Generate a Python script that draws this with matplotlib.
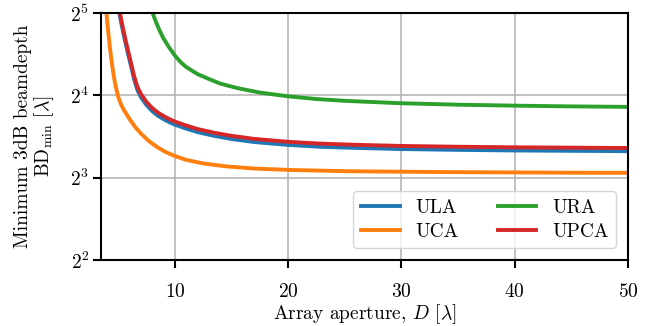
import matplotlib
matplotlib.use("Agg")
import matplotlib.pyplot as plt
from matplotlib.ticker import FixedLocator, FixedFormatter, NullLocator

# values (aperture D in wavelengths, BD_min in wavelengths)
ula_D = [5.05, 5.15, 5.35, 5.6, 5.85, 6.1, 6.4, 6.7, 7.0, 7.5, 8.0, 8.5, 9.0, 9.5, 10, 11, 12, 13.5, 15, 17, 20, 23, 26, 30, 35, 40, 45, 50]
ula_bd = [33.34, 31.17, 28.29, 25.35, 22.82, 20.72, 18.33, 16.71, 15.76, 14.73, 14.01, 13.48, 13.09, 12.77,
          12.50, 12.09, 11.74, 11.37, 11.08, 10.80, 10.54, 10.37, 10.28, 10.18, 10.11, 10.06, 10.03, 10.00]

uca_D = [3.9, 3.96, 4.1, 4.25, 4.4, 4.55, 4.7, 4.85, 5.0, 5.25, 5.5, 6.0, 6.5, 7.0, 7.7, 8.5, 9.2, 10, 11, 12.5, 14.5, 17, 20, 25, 30, 35, 40, 45, 50]
uca_bd = [34.23, 32.0, 27.73, 24.23, 21.54, 19.47, 17.90, 16.73, 15.77, 14.81, 14.14, 13.11, 12.25, 11.60, 10.89,
          10.31, 9.92, 9.60, 9.29, 9.02, 8.80, 8.64, 8.54, 8.45, 8.41, 8.38, 8.36, 8.34, 8.33]

ura_D = [7.9, 8.0, 8.3, 8.63, 9.0, 9.5, 10, 10.5, 11, 12, 13, 14, 15.5, 17.5, 20, 22.5, 25, 30, 35, 40, 45, 50]
ura_bd = [33.38, 32.27, 29.92, 27.73, 25.82, 23.93, 22.37, 21.18, 20.31, 19.14, 18.36, 17.67, 17.01, 16.38,
          15.87, 15.51, 15.28, 14.97, 14.79, 14.67, 14.58, 14.52]

upca_D = [5.05, 5.15, 5.35, 5.6, 5.85, 6.1, 6.4, 6.7, 7.0, 7.5, 8.0, 8.5, 9.0, 9.5, 10, 11, 12, 13.5, 15, 17, 20, 23, 26, 30, 35, 40, 45, 50]
upca_bd = [34.23, 32.0, 29.05, 26.03, 23.43, 21.27, 18.82, 17.16, 16.18, 15.12, 14.38, 13.84, 13.44, 13.11,
           12.83, 12.41, 12.05, 11.67, 11.38, 11.09, 10.82, 10.65, 10.55, 10.45, 10.38, 10.33, 10.30, 10.27]

x_ticks = [10, 20, 30, 40, 50]
y_ticks = [4, 8, 16, 32]
y_ticklabels = ["$2^{2}$", "$2^{3}$", "$2^{4}$", "$2^{5}$"]

plt.rcParams["font.family"] = "cmr10"
plt.rcParams["mathtext.fontset"] = "cm"
plt.rcParams["axes.formatter.use_mathtext"] = True
fs = 14

fig = plt.figure(figsize=(6.62, 3.26), dpi=100)
ax = fig.add_axes([0.1526, 0.2025, 0.7960, 0.7575])

lw = 2.8
ax.plot(ula_D, ula_bd, color="#1f77b4", lw=lw, label="ULA")
ax.plot(uca_D, uca_bd, color="#ff7f0e", lw=lw, label="UCA")
ax.plot(ura_D, ura_bd, color="#2ca02c", lw=lw, label="URA")
ax.plot(upca_D, upca_bd, color="#d62728", lw=lw, label="UPCA")

ax.set_yscale("log", base=2)
ax.set_xlim(3.48, 50)
ax.set_ylim(4, 32)
ax.xaxis.set_major_locator(FixedLocator(x_ticks))
ax.yaxis.set_major_locator(FixedLocator(y_ticks))
ax.yaxis.set_major_formatter(FixedFormatter(y_ticklabels))
ax.yaxis.set_minor_locator(NullLocator())

ax.grid(True, color="#b0b0b0", lw=1.1)
ax.set_axisbelow(True)
for s in ax.spines.values():
    s.set_linewidth(1.5)
ax.tick_params(direction="out", length=5.5, width=1.5, labelsize=fs)
ax.tick_params(axis="x", pad=11)
ax.tick_params(axis="y", pad=3)

ax.set_xlabel(r"Array aperture, $D$ [$\lambda$]", fontsize=fs, labelpad=1)
ax.set_ylabel("Minimum 3dB beamdepth\n" + r"$\mathrm{BD}_{\min}$ [$\lambda$]", fontsize=fs,
              linespacing=1.0, labelpad=10)

ax.legend(ncol=2, loc="lower right", fontsize=fs, columnspacing=2.0, handlelength=2.0,
          labelspacing=0.3, borderaxespad=0.6)

fig.savefig("out.png", dpi=100)
